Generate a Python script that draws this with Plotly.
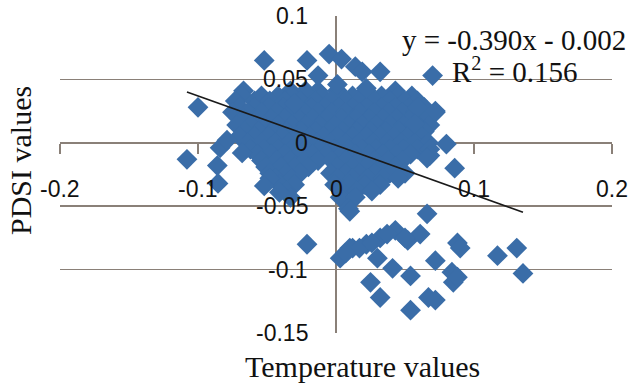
import plotly.graph_objects as go

# ---- data ----
temp = [
    # dense central cluster, row by row
    -0.067, -0.033, -0.022, -0.013, 0.001, 0.022, 0.043,
    -0.068, -0.054, -0.042, -0.032, -0.020, -0.010, 0.001, 0.012, 0.023, 0.033, 0.045, 0.055,
    -0.073, -0.059, -0.048, -0.037, -0.026, -0.015, -0.004, 0.007, 0.017, 0.028, 0.039, 0.050, 0.059,
    -0.070, -0.059, -0.049, -0.038, -0.028, -0.018, -0.008, 0.002, 0.012, 0.022, 0.033, 0.043, 0.053, 0.064,
    -0.075, -0.064, -0.054, -0.043, -0.033, -0.023, -0.013, -0.003, 0.007, 0.017, 0.028, 0.038, 0.048, 0.058, 0.072,
    -0.067, -0.057, -0.047, -0.037, -0.027, -0.017, -0.007, 0.004, 0.014, 0.024, 0.034, 0.044, 0.054, 0.064,
    -0.072, -0.062, -0.052, -0.042, -0.032, -0.022, -0.012, -0.001, 0.009, 0.019, 0.029, 0.039, 0.049, 0.059, 0.068,
    -0.066, -0.056, -0.046, -0.036, -0.025, -0.015, -0.005, 0.005, 0.015, 0.025, 0.036, 0.046, 0.056, 0.064,
    -0.070, -0.059, -0.049, -0.039, -0.029, -0.019, -0.009, 0.001, 0.012, 0.022, 0.032, 0.042, 0.052, 0.062,
    -0.064, -0.054, -0.044, -0.034, -0.024, -0.014, -0.004, 0.007, 0.017, 0.027, 0.037, 0.047, 0.057, 0.067,
    -0.062, -0.052, -0.042, -0.032, -0.022, -0.012, -0.001, 0.009, 0.019, 0.029, 0.039, 0.049, 0.059, 0.068,
    -0.057, -0.047, -0.037, -0.027, -0.017, -0.007, 0.004, 0.014, 0.024, 0.034, 0.044, 0.054,
    -0.054, -0.043, -0.033, -0.023, -0.013, -0.003, 0.007, 0.017, 0.028, 0.038, 0.048,
    -0.051, -0.040, -0.030, -0.020, 0.001, 0.012, 0.022, 0.033, 0.043,
    -0.048, -0.036, -0.026, -0.004, 0.007, 0.017, 0.028, 0.039, 0.050,
    -0.044, -0.032, 0.001, 0.012, 0.023, 0.034, 0.045,
    -0.041, -0.030, -0.001, 0.010, 0.021, 0.032,
    -0.036, 0.004, 0.015, 0.026,
    -0.033, 0.003, 0.014,
    0.009,
    # top edge
    -0.052, -0.021, -0.005, 0.004, 0.014, 0.019, 0.032, -0.013, 0.001, 0.022, -0.030,
    # left edge
    -0.100, -0.108, -0.086, -0.0855, -0.084, -0.079, -0.068, -0.048, -0.041, -0.052,
    # right edge
    0.070, 0.059, 0.072, 0.057, 0.080, 0.068, 0.086, 0.066,
    # below the cluster
    -0.021, 0.010,
    # lower group
    0.066, 0.043, 0.052, 0.061, 0.032, 0.022, 0.012, 0.003, 0.010, 0.017, 0.026, 0.050,
    0.030, 0.041, 0.054, 0.072, 0.084, 0.088, 0.090, 0.025, 0.032, 0.067, 0.072, 0.054,
    0.085, 0.088, 0.117, 0.131, 0.1355, 0.007, 0.037,
]
pdsi = [
    0.041, 0.041, 0.041, 0.041, 0.041, 0.041, 0.041,
    0.037, 0.037, 0.037, 0.037, 0.037, 0.037, 0.037, 0.037, 0.037, 0.037, 0.037, 0.037,
    0.033, 0.033, 0.033, 0.033, 0.033, 0.033, 0.033, 0.033, 0.033, 0.033, 0.033, 0.033, 0.033,
    0.028, 0.028, 0.028, 0.028, 0.028, 0.028, 0.028, 0.028, 0.028, 0.028, 0.028, 0.028, 0.028, 0.028,
    0.024, 0.024, 0.024, 0.024, 0.024, 0.024, 0.024, 0.024, 0.024, 0.024, 0.024, 0.024, 0.024, 0.024, 0.024,
    0.019, 0.019, 0.019, 0.019, 0.019, 0.019, 0.019, 0.019, 0.019, 0.019, 0.019, 0.019, 0.019, 0.019,
    0.014, 0.014, 0.014, 0.014, 0.014, 0.014, 0.014, 0.014, 0.014, 0.014, 0.014, 0.014, 0.014, 0.014, 0.014,
    0.009, 0.009, 0.009, 0.009, 0.009, 0.009, 0.009, 0.009, 0.009, 0.009, 0.009, 0.009, 0.009, 0.009,
    0.005, 0.005, 0.005, 0.005, 0.005, 0.005, 0.005, 0.005, 0.005, 0.005, 0.005, 0.005, 0.005, 0.005,
    0.000, 0.000, 0.000, 0.000, 0.000, 0.000, 0.000, 0.000, 0.000, 0.000, 0.000, 0.000, 0.000, 0.000,
    -0.005, -0.005, -0.005, -0.005, -0.005, -0.005, -0.005, -0.005, -0.005, -0.005, -0.005, -0.005, -0.005, -0.005,
    -0.009, -0.009, -0.009, -0.009, -0.009, -0.009, -0.009, -0.009, -0.009, -0.009, -0.009, -0.009,
    -0.014, -0.014, -0.014, -0.014, -0.014, -0.014, -0.014, -0.014, -0.014, -0.014, -0.014,
    -0.019, -0.019, -0.019, -0.019, -0.019, -0.019, -0.019, -0.019, -0.019,
    -0.024, -0.024, -0.024, -0.024, -0.024, -0.024, -0.024, -0.024, -0.024,
    -0.028, -0.028, -0.028, -0.028, -0.028, -0.028, -0.028,
    -0.033, -0.033, -0.033, -0.033, -0.033, -0.033,
    -0.038, -0.038, -0.038, -0.038,
    -0.043, -0.043, -0.043,
    -0.052,
    0.065, 0.065, 0.070, 0.066, 0.060, 0.056, 0.056, 0.053, 0.046, 0.043, 0.031,
    0.028, -0.013, -0.018, -0.032, -0.004, 0.002, -0.008, -0.028, -0.039, -0.034,
    0.053, 0.028, 0.025, 0.015, -0.001, -0.010, -0.020, -0.012,
    -0.080, -0.054,
    -0.056, -0.069, -0.077, -0.072, -0.075, -0.080, -0.083, -0.091, -0.083, -0.083, -0.079, -0.075,
    -0.091, -0.099, -0.105, -0.093, -0.102, -0.079, -0.083, -0.110, -0.122, -0.122, -0.124, -0.132,
    -0.110, -0.106, -0.089, -0.083, -0.103, -0.087, -0.072,
]

slope = -0.390
intercept = -0.002
equation_text = "y = -0.390x - 0.002"
r2_text = "R<sup>2</sup> = 0.156"

x_ticks = [-0.2, -0.1, 0, 0.1, 0.2]
x_tick_labels = ["-0.2", "-0.1", "0", "0.1", "0.2"]
y_ticks = [0.1, 0.05, 0, -0.05, -0.1, -0.15]
y_tick_labels = ["0.1", "0.05", "0", "-0.05", "-0.1", "-0.15"]

x_title = "Temperature values"
y_title = "PDSI values"

# ---- style ----
BLUE = "#3A6DA8"
GRID = "#8A8078"
TICK_FONT = dict(family="Liberation Sans, Arial, sans-serif", size=23, color="#111111")
SERIF = "Liberation Serif, Times New Roman, serif"

fig = go.Figure()

fig.add_trace(go.Scatter(
    x=temp, y=pdsi, mode="markers",
    marker=dict(symbol="diamond", size=16, color=BLUE, line=dict(width=0)),
    hoverinfo="skip", showlegend=False,
))

x_line = [min(temp), max(temp)]
y_line = [slope * v + intercept for v in x_line]
fig.add_trace(go.Scatter(
    x=x_line, y=y_line, mode="lines",
    line=dict(color="#1a1a1a", width=1.6),
    hoverinfo="skip", showlegend=False,
))

annotations = []
for v, t in zip(x_ticks, x_tick_labels):
    annotations.append(dict(x=v, y=-0.0362, xref="x", yref="y", text=t, showarrow=False,
                            xanchor="center", yanchor="middle", font=TICK_FONT))
for v, t in zip(y_ticks, y_tick_labels):
    annotations.append(dict(x=-0.0188, y=v, xref="x", yref="y", text=t, showarrow=False,
                            xanchor="right", yanchor="middle", font=TICK_FONT))

annotations.append(dict(x=514, y=388 - 40, xref="paper", yref="paper", text=equation_text,
                        showarrow=False, xanchor="center", yanchor="middle",
                        font=dict(family=SERIF, size=29, color="#111111")))
annotations.append(dict(x=515, y=388 - 70, xref="paper", yref="paper", text=r2_text,
                        showarrow=False, xanchor="center", yanchor="middle",
                        font=dict(family=SERIF, size=29, color="#111111")))
annotations.append(dict(x=362, y=388 - 366, xref="paper", yref="paper", text=x_title,
                        showarrow=False, xanchor="center", yanchor="middle",
                        font=dict(family=SERIF, size=30, color="#111111")))
annotations.append(dict(x=20, y=388 - 161, xref="paper", yref="paper", text=y_title,
                        showarrow=False, xanchor="center", yanchor="middle", textangle=-90,
                        font=dict(family=SERIF, size=30, color="#111111")))

# convert pixel-based paper annotations to paper fractions
L, R, T, B = 60, 28, 16, 55
W, H = 640, 388
pw, ph = W - L - R, H - T - B
for a in annotations:
    if a["xref"] == "paper":
        a["x"] = (a["x"] - L) / pw
        a["y"] = (a["y"] - B) / ph

fig.update_layout(
    width=W, height=H,
    margin=dict(l=L, r=R, t=T, b=B),
    paper_bgcolor="white", plot_bgcolor="white",
    xaxis=dict(range=[-0.2, 0.2], showgrid=False, zeroline=True, zerolinecolor=GRID,
               zerolinewidth=1.5, showticklabels=False, anchor="free", position=0.6,
               ticks="outside", ticklen=10, tickwidth=1.5, tickcolor=GRID,
               tickvals=[-0.2, -0.1, 0.1, 0.2], showline=False, fixedrange=True),
    yaxis=dict(range=[-0.15, 0.1], showgrid=True, gridcolor=GRID, gridwidth=1.5,
               tickvals=y_ticks, showticklabels=False, zeroline=False, ticks="",
               showline=False, fixedrange=True),
    annotations=annotations,
)

fig.write_html(
    "out.html",
    config={"staticPlot": True},
    post_script="document.body.style.margin='0';document.body.style.padding='0';",
)
